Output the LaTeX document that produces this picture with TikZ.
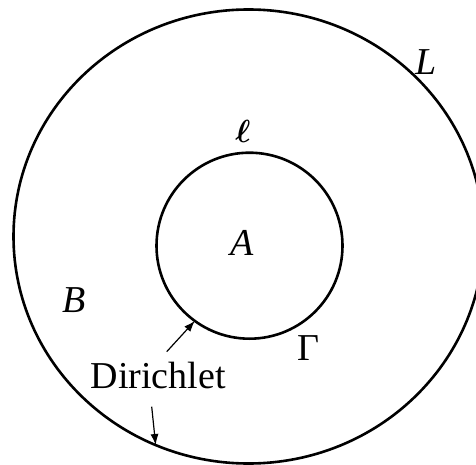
\documentclass[tikz,border=0pt]{standalone}
\usepackage{fontspec}
\usepackage{graphicx}
\setmainfont{Liberation Serif}
\usetikzlibrary{arrows.meta,shapes.geometric}
\begin{document}
\begin{tikzpicture}[x=1pt,y=-1pt,
  curve/.style={draw, line width=2.6pt, inner sep=0pt, outer sep=0pt},
  lbl/.style={font=\fontsize{38}{42}\selectfont, inner sep=0pt},
  ptr/.style={line width=1.2pt, -{Latex[length=11pt,width=8pt]}}]
\useasboundingbox (0,0) rectangle (476,465);
\node[curve, ellipse, minimum width=470pt, minimum height=454pt] (outer) at (248.5,236.5) {};
\node[curve, circle, minimum size=186pt] (inner) at (249.5,245.7) {};
\node[lbl] (L) at (426,62) {\textit{L}};
\node[inner sep=0pt] (ell) at (243,131.7) {\scalebox{3.2}{\boldmath$\ell$}};
\node[lbl] (A) at (242,242.5) {\textit{A}};
\node[lbl] (B) at (74.5,300.5) {\textit{B}};
\node[lbl] (G) at (308.5,348.5) {Γ};
\node[lbl] (D) at (158.3,375.5) {Dirichlet};
\coordinate (t1) at (166.7,351.7);
\coordinate (t2) at (151.7,406.7);
\draw[ptr] (t1) -- (inner.234);
\draw[ptr] (t2) -- (outer.246);
\end{tikzpicture}
\end{document}
